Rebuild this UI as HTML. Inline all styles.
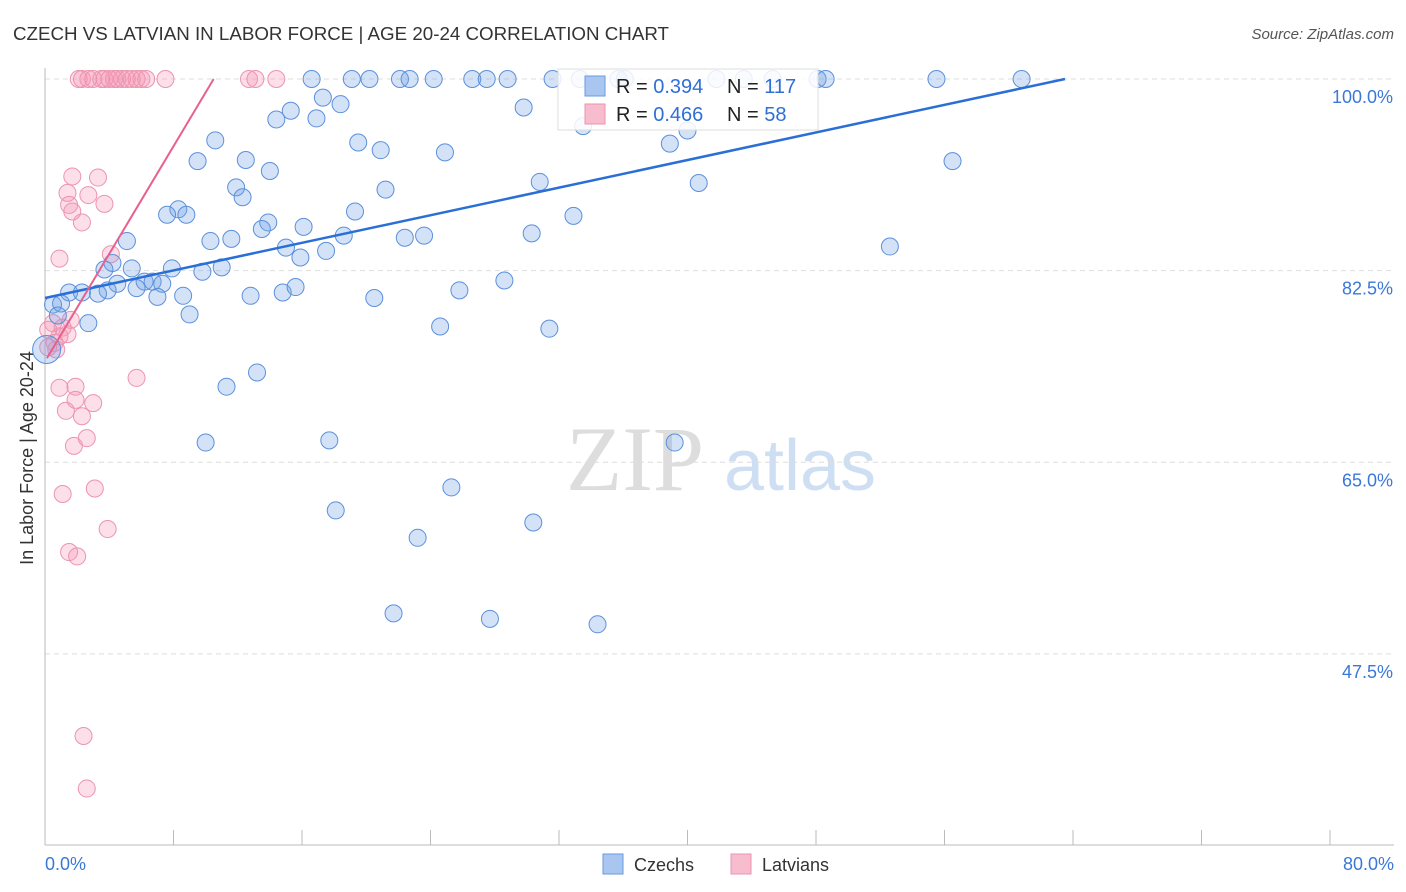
<!DOCTYPE html>
<html><head><meta charset="utf-8"><style>
body{margin:0;background:#fff;font-family:"Liberation Sans",sans-serif}
</style></head><body>
<svg id="chart" width="1406" height="892" xmlns="http://www.w3.org/2000/svg" style="display:block">
<text x="13" y="40" font-size="18" fill="#333" textLength="656" lengthAdjust="spacingAndGlyphs">CZECH VS LATVIAN IN LABOR FORCE | AGE 20-24 CORRELATION CHART</text>
<text x="1394" y="39" font-size="15" fill="#555" text-anchor="end" font-style="italic">Source: ZipAtlas.com</text>
<text transform="translate(33,458) rotate(-90)" font-size="18" fill="#333" text-anchor="middle">In Labor Force | Age 20-24</text>
<g><text x="635" y="490" font-size="92" fill="#ddd" font-family="Liberation Serif,serif" text-anchor="middle">ZIP</text><text x="800" y="490" font-size="72" fill="#cfdff3" text-anchor="middle">atlas</text></g>
<g id="grid"></g><g id="axes"></g><g id="pts"></g><g id="lines"></g>
<g>
<rect x="558" y="69" width="260" height="61" fill="#fff" fill-opacity="0.85" stroke="#ddd"/>
<rect x="585" y="76" width="20" height="20" fill="#a9c6f0" stroke="#6a9ae0"/>
<rect x="585" y="104" width="20" height="20" fill="#f7bccd" stroke="#eb95b0"/>
<text x="616" y="93" font-size="20" fill="#222">R = <tspan fill="#2f6fd6">0.394</tspan></text>
<text x="727" y="93" font-size="20" fill="#222">N = <tspan fill="#2f6fd6">117</tspan></text>
<text x="616" y="121" font-size="20" fill="#222">R = <tspan fill="#2f6fd6">0.466</tspan></text>
<text x="727" y="121" font-size="20" fill="#222">N = <tspan fill="#2f6fd6"> 58</tspan></text>
</g>
<g>
<rect x="603" y="854" width="20" height="20" fill="#a9c6f0" stroke="#6a9ae0"/>
<text x="634" y="871" font-size="18" fill="#333">Czechs</text>
<rect x="731" y="854" width="20" height="20" fill="#f7bccd" stroke="#eb95b0"/>
<text x="762" y="871" font-size="18" fill="#333">Latvians</text>
</g>
</svg>
<script>
const yTicks=[100,82.5,65,47.5];
const xTickLabels=["0.0%","80.0%"];
const czX=[16.6,19.1,20.2,22.1,22.7,24.2,26.6,27.5,28.8,31.6,33.3,35.7,36.1,41.8,43.5,45.3,48.1,48.6,55.5,60.8,17.3,18.4,15.3,14.4,16.9,29.8,33.5,40.0,10.6,19.5,20.9,24.9,38.9,9.5,12.5,14.0,56.5,11.9,12.3,21.2,30.8,40.7,8.3,7.6,8.8,19.3,32.9,13.9,13.5,16.1,5.1,10.3,11.6,22.4,23.6,30.3,18.6,15.0,17.5,52.6,15.9,4.2,3.7,5.4,7.9,9.8,11.0,4.5,6.2,6.7,7.3,5.7,3.9,1.5,2.3,3.3,7.0,8.6,12.8,14.8,15.6,20.5,25.8,28.6,0.5,1.0,0.8,2.7,9.0,24.6,31.4,11.3,13.2,10.0,17.7,39.2,25.3,18.1,30.4,23.2,21.7,27.7,34.4,0.1];
const czY=[100,100,100,100,100,100,100,100,100,100,100,100,100,100,100,100,100,100,100,100,98.3,97.7,97.1,96.3,96.4,97.4,95.7,95.3,94.4,94.2,93.5,93.3,94.1,92.5,92.6,91.6,92.5,90.1,89.2,89.9,90.6,90.5,88.1,87.6,87.6,87.9,87.5,86.9,86.3,86.5,85.2,85.2,85.4,85.5,85.7,85.9,85.7,84.6,84.3,84.7,83.7,83.2,82.6,82.7,82.7,82.4,82.8,81.3,81.5,81.5,81.3,80.9,80.7,80.5,80.5,80.4,80.1,80.2,80.2,80.5,81.0,80.0,80.7,81.6,79.4,79.5,78.4,77.7,78.5,77.4,77.2,71.9,73.2,66.8,67.0,66.8,62.7,60.6,59.5,58.1,51.2,50.7,50.2,75.3];
const lvX=[2.1,2.3,2.7,3.0,3.5,3.7,4.0,4.3,4.5,4.8,5.1,5.4,5.7,6.0,6.3,7.5,12.7,13.1,14.4,1.7,3.3,1.4,2.7,1.5,1.7,3.7,2.3,0.9,4.1,0.5,1.1,1.6,0.9,1.4,0.2,0.6,0.7,0.2,5.7,0.9,1.9,1.9,3.0,1.3,2.3,1.8,2.6,1.1,3.1,3.9,1.5,2.0,2.4,2.6];
const lvY=[100,100,100,100,100,100,100,100,100,100,100,100,100,100,100,100,100,100,100,91.1,91.0,89.6,89.4,88.5,87.9,88.6,86.9,83.6,84.0,77.7,77.3,78.0,76.5,76.7,77.1,75.9,75.3,75.5,72.7,71.8,71.9,70.7,70.4,69.7,69.2,66.5,67.2,62.1,62.6,58.9,56.8,56.4,40.0,35.2];
const czTrend=[0,80.0,63.5,100];
const lvTrend=[0.12,74.5,10.5,100];
const NS="http://www.w3.org/2000/svg";
const sx=v=>45+v/80*1285, sy=v=>79+(100-v)*10.95;
function mk(tag,attrs,parent){const e=document.createElementNS(NS,tag);for(const k in attrs)e.setAttribute(k,attrs[k]);parent.appendChild(e);return e;}
const grid=document.getElementById('grid'),axes=document.getElementById('axes'),pts=document.getElementById('pts'),lines=document.getElementById('lines');
yTicks.forEach(t=>{
 const l=mk('line',{x1:45,x2:1394,y1:sy(t),y2:sy(t),stroke:'#ddd','stroke-dasharray':'5,4'},grid);
 
 
 const tx=mk('text',{x:1393,y:sy(t)+24,'font-size':18,fill:'#3a78d8','text-anchor':'end'},axes);
 tx.textContent=t.toFixed(1)+'%';
 
 
});
const ya=mk('line',{x1:45,x2:45,y1:68,y2:845,stroke:'#bbb'},axes);


const xa=mk('line',{x1:45,x2:1394,y1:845,y2:845,stroke:'#bbb'},axes);


for(let i=0;i<=10;i++){const t=mk('line',{x1:sx(i*8),x2:sx(i*8),y1:830,y2:845,stroke:'#bbb'},axes);
 
 }
[[0,'start',45],[1,'end',1394]].forEach(([i,a,x])=>{const t=mk('text',{x:x,y:870,'font-size':18,fill:'#3a78d8','text-anchor':a},axes);t.textContent=xTickLabels[i];
 
 });
lvX.forEach((v,i)=>{const c=mk('circle',{cx:sx(v),cy:sy(lvY[i]),r:8.5,fill:'rgba(244,150,180,0.3)',stroke:'#ec94b0','stroke-width':1},pts);
 
 });
czX.forEach((v,i)=>{const big=i===czX.length-1;const c=mk('circle',{cx:sx(v),cy:sy(czY[i]),r:big?14:8.5,fill:'rgba(110,160,230,0.3)',stroke:'#5b90dc','stroke-width':1},pts);
 
 });
const lb=mk('line',{x1:sx(czTrend[0]),y1:sy(czTrend[1]),x2:sx(czTrend[2]),y2:sy(czTrend[3]),stroke:'#2a6fd6','stroke-width':2.5},lines);


const lp=mk('line',{x1:sx(lvTrend[0]),y1:sy(lvTrend[1]),x2:sx(lvTrend[2]),y2:sy(lvTrend[3]),stroke:'#e8608e','stroke-width':2},lines);


</script>
</body></html>
